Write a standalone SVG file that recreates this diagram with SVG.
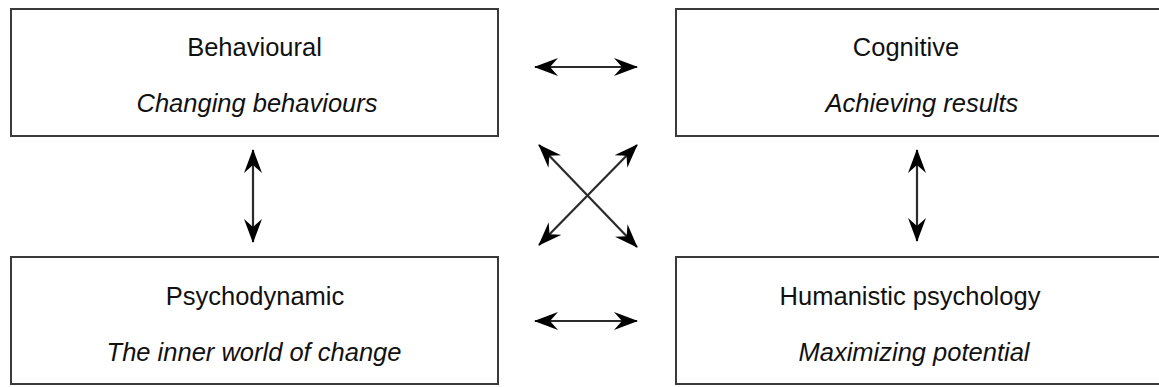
<svg xmlns="http://www.w3.org/2000/svg" width="1159" height="387" viewBox="0 0 1159 387">
<style>
.box{fill:#fff;stroke:#3a3a3a;stroke-width:2}
.t{font-family:"Liberation Sans",Arial,sans-serif;font-size:25.5px;fill:#111;text-anchor:middle}
.i{font-style:italic}
.c{stroke:#2a2a2a;stroke-width:2.2;fill:none;marker-start:url(#ah);marker-end:url(#ah)}
</style>
<defs>
<marker id="ah" viewBox="0 0 24 18" refX="23" refY="9" markerWidth="24" markerHeight="18" markerUnits="userSpaceOnUse" orient="auto-start-reverse">
<path d="M0,0 L24,9 L0,18 L8,9 Z" fill="#000"/>
</marker>
</defs>
<rect width="1159" height="387" fill="#fff"/>
<g id="behavioural">
<rect class="box" x="11" y="9" width="487" height="127"/>
<text class="t" x="254.5" y="56">Behavioural</text>
<text class="t i" x="257" y="112">Changing behaviours</text>
</g>
<g id="cognitive">
<rect class="box" x="676" y="9" width="520" height="127"/>
<text class="t" x="906" y="56">Cognitive</text>
<text class="t i" x="922" y="112">Achieving results</text>
</g>
<g id="psychodynamic">
<rect class="box" x="11" y="257" width="487" height="127"/>
<text class="t" x="255" y="305">Psychodynamic</text>
<text class="t i" x="254" y="361">The inner world of change</text>
</g>
<g id="humanistic">
<rect class="box" x="676" y="257" width="520" height="127"/>
<text class="t" x="910" y="305">Humanistic psychology</text>
<text class="t i" x="914" y="361">Maximizing potential</text>
</g>
<g id="connectors">
<line class="c" x1="535" y1="67" x2="637" y2="67"/>
<line class="c" x1="535" y1="321" x2="637" y2="321"/>
<line class="c" x1="253" y1="150" x2="253" y2="242"/>
<line class="c" x1="917" y1="150" x2="917" y2="241"/>
<line class="c" x1="539" y1="145" x2="637" y2="247"/>
<line class="c" x1="637" y1="145" x2="539" y2="245"/>
</g>
</svg>
